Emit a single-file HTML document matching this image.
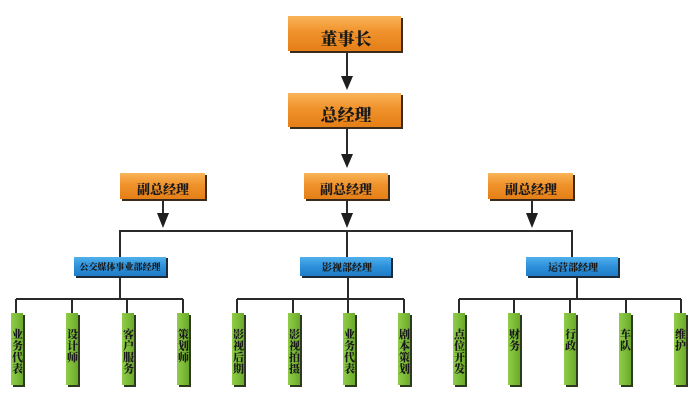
<!DOCTYPE html>
<html><head><meta charset="utf-8">
<style>
html,body{margin:0;padding:0;background:#fff;}
svg{display:block;}
text{font-family:"Liberation Serif","Noto Serif CJK SC","Noto Sans CJK SC",serif;font-weight:900;fill:#1a1a1a;}
</style></head>
<body>
<svg width="700" height="420" viewBox="0 0 700 420" xmlns="http://www.w3.org/2000/svg">
<defs>
<linearGradient id="og" x1="0" y1="0" x2="0" y2="1">
<stop offset="0" stop-color="#f9b458"/><stop offset="0.45" stop-color="#f0922c"/><stop offset="1" stop-color="#e57f17"/>
</linearGradient>
<linearGradient id="bg" x1="0" y1="0" x2="0" y2="1">
<stop offset="0" stop-color="#4fb0ec"/><stop offset="0.5" stop-color="#2d90da"/><stop offset="1" stop-color="#1f7cc6"/>
</linearGradient>
<linearGradient id="gg" x1="0" y1="0" x2="1" y2="0">
<stop offset="0" stop-color="#8fcc4a"/><stop offset="0.5" stop-color="#7dbd38"/><stop offset="1" stop-color="#6aa82c"/>
</linearGradient>
</defs>

<g stroke="#2a2a2a" stroke-width="2" fill="none">
<!-- top arrows -->
<line x1="347" y1="53" x2="347" y2="80"/>
<line x1="347" y1="128" x2="347" y2="158"/>
<line x1="163" y1="200" x2="163" y2="216"/>
<line x1="347" y1="200" x2="347" y2="216"/>
<line x1="532" y1="200" x2="532" y2="216"/>
<!-- mid horizontal -->
<polyline points="120,257 120,231 572,231 572,257"/>
<line x1="347" y1="231" x2="347" y2="257"/>
<!-- below blue -->
<line x1="120" y1="277" x2="120" y2="299"/>
<line x1="348" y1="277" x2="348" y2="299"/>
<line x1="577" y1="277" x2="577" y2="299"/>
<line x1="16" y1="299" x2="183" y2="299"/>
<line x1="237" y1="299" x2="404" y2="299"/>
<line x1="459" y1="299" x2="681" y2="299"/>
<line x1="16" y1="299" x2="16" y2="313"/>
<line x1="72" y1="299" x2="72" y2="313"/>
<line x1="127" y1="299" x2="127" y2="313"/>
<line x1="183" y1="299" x2="183" y2="313"/>
<line x1="237" y1="299" x2="237" y2="313"/>
<line x1="293" y1="299" x2="293" y2="313"/>
<line x1="348" y1="299" x2="348" y2="313"/>
<line x1="404" y1="299" x2="404" y2="313"/>
<line x1="459" y1="299" x2="459" y2="313"/>
<line x1="514" y1="299" x2="514" y2="313"/>
<line x1="570" y1="299" x2="570" y2="313"/>
<line x1="626" y1="299" x2="626" y2="313"/>
<line x1="681" y1="299" x2="681" y2="313"/>
</g>
<g fill="#1e1e1e">
<polygon points="341,76 353,76 347,90"/>
<polygon points="341,154 353,154 347,168"/>
<polygon points="157,213 169,213 163,228"/>
<polygon points="341,213 353,213 347,228"/>
<polygon points="526,213 538,213 532,228"/>
</g>

<!-- orange boxes -->
<g>
<rect x="290" y="18" width="113" height="35" fill="#3b2b1c"/>
<rect x="288" y="16" width="113" height="35" fill="url(#og)"/>
<text x="346" y="45" font-size="17" text-anchor="middle">董事长</text>

<rect x="290" y="95" width="113" height="34" fill="#3b2b1c"/>
<rect x="288" y="93" width="113" height="34" fill="url(#og)"/>
<text x="346" y="121" font-size="17" text-anchor="middle">总经理</text>

<rect x="122" y="175" width="85" height="26" fill="#3b2b1c"/>
<rect x="120" y="173" width="85" height="26" fill="url(#og)"/>
<text x="163" y="194" font-size="13" text-anchor="middle">副总经理</text>

<rect x="306" y="175" width="84" height="26" fill="#3b2b1c"/>
<rect x="304" y="173" width="84" height="26" fill="url(#og)"/>
<text x="346" y="194" font-size="13" text-anchor="middle">副总经理</text>

<rect x="490" y="175" width="85" height="26" fill="#3b2b1c"/>
<rect x="488" y="173" width="85" height="26" fill="url(#og)"/>
<text x="531" y="194" font-size="13" text-anchor="middle">副总经理</text>
</g>

<!-- blue boxes -->
<g>
<rect x="76" y="258" width="92" height="20" fill="#1d2a38"/>
<rect x="74" y="257" width="92" height="19" fill="url(#bg)"/>
<text x="120" y="270" font-size="9" text-anchor="middle">公交媒体事业部经理</text>

<rect x="302" y="258" width="91" height="20" fill="#1d2a38"/>
<rect x="300" y="257" width="91" height="19" fill="url(#bg)"/>
<text x="347" y="271" font-size="10" text-anchor="middle">影视部经理</text>

<rect x="528" y="258" width="92" height="20" fill="#1d2a38"/>
<rect x="526" y="257" width="92" height="19" fill="url(#bg)"/>
<text x="573" y="271" font-size="10" text-anchor="middle">运营部经理</text>
</g>

<!-- green boxes -->
<g id="greens">
<rect x="13" y="315" width="12" height="72" fill="#2e3a1e"/><rect x="11" y="313" width="12" height="72" fill="url(#gg)"/>
<rect x="68" y="315" width="12" height="72" fill="#2e3a1e"/><rect x="66" y="313" width="12" height="72" fill="url(#gg)"/>
<rect x="124" y="315" width="12" height="72" fill="#2e3a1e"/><rect x="122" y="313" width="12" height="72" fill="url(#gg)"/>
<rect x="179" y="315" width="12" height="72" fill="#2e3a1e"/><rect x="177" y="313" width="12" height="72" fill="url(#gg)"/>
<rect x="234" y="315" width="12" height="72" fill="#2e3a1e"/><rect x="232" y="313" width="12" height="72" fill="url(#gg)"/>
<rect x="290" y="315" width="12" height="72" fill="#2e3a1e"/><rect x="288" y="313" width="12" height="72" fill="url(#gg)"/>
<rect x="345" y="315" width="12" height="72" fill="#2e3a1e"/><rect x="343" y="313" width="12" height="72" fill="url(#gg)"/>
<rect x="400" y="315" width="12" height="72" fill="#2e3a1e"/><rect x="398" y="313" width="12" height="72" fill="url(#gg)"/>
<rect x="455" y="315" width="12" height="72" fill="#2e3a1e"/><rect x="453" y="313" width="12" height="72" fill="url(#gg)"/>
<rect x="510" y="315" width="12" height="72" fill="#2e3a1e"/><rect x="508" y="313" width="12" height="72" fill="url(#gg)"/>
<rect x="566" y="315" width="12" height="72" fill="#2e3a1e"/><rect x="564" y="313" width="12" height="72" fill="url(#gg)"/>
<rect x="621" y="315" width="12" height="72" fill="#2e3a1e"/><rect x="619" y="313" width="12" height="72" fill="url(#gg)"/>
<rect x="676" y="315" width="12" height="72" fill="#2e3a1e"/><rect x="674" y="313" width="12" height="72" fill="url(#gg)"/>
</g>

<g font-size="11" text-anchor="middle">
<text x="17.5" y="338">业</text><text x="17.5" y="349.5">务</text><text x="17.5" y="361">代</text><text x="17.5" y="372.5">表</text>
<text x="72.5" y="338">设</text><text x="72.5" y="349.5">计</text><text x="72.5" y="361">师</text>
<text x="128.5" y="338">客</text><text x="128.5" y="349.5">户</text><text x="128.5" y="361">服</text><text x="128.5" y="372.5">务</text>
<text x="183.5" y="338">策</text><text x="183.5" y="349.5">划</text><text x="183.5" y="361">师</text>
<text x="238.5" y="338">影</text><text x="238.5" y="349.5">视</text><text x="238.5" y="361">后</text><text x="238.5" y="372.5">期</text>
<text x="294.5" y="338">影</text><text x="294.5" y="349.5">视</text><text x="294.5" y="361">拍</text><text x="294.5" y="372.5">摄</text>
<text x="349.5" y="338">业</text><text x="349.5" y="349.5">务</text><text x="349.5" y="361">代</text><text x="349.5" y="372.5">表</text>
<text x="404.5" y="338">剧</text><text x="404.5" y="349.5">本</text><text x="404.5" y="361">策</text><text x="404.5" y="372.5">划</text>
<text x="459.5" y="338">点</text><text x="459.5" y="349.5">位</text><text x="459.5" y="361">开</text><text x="459.5" y="372.5">发</text>
<text x="514.5" y="338">财</text><text x="514.5" y="349.5">务</text>
<text x="570.5" y="338">行</text><text x="570.5" y="349.5">政</text>
<text x="625.5" y="338">车</text><text x="625.5" y="349.5">队</text>
<text x="680.5" y="338">维</text><text x="680.5" y="349.5">护</text>
</g>
</svg>
</body></html>
